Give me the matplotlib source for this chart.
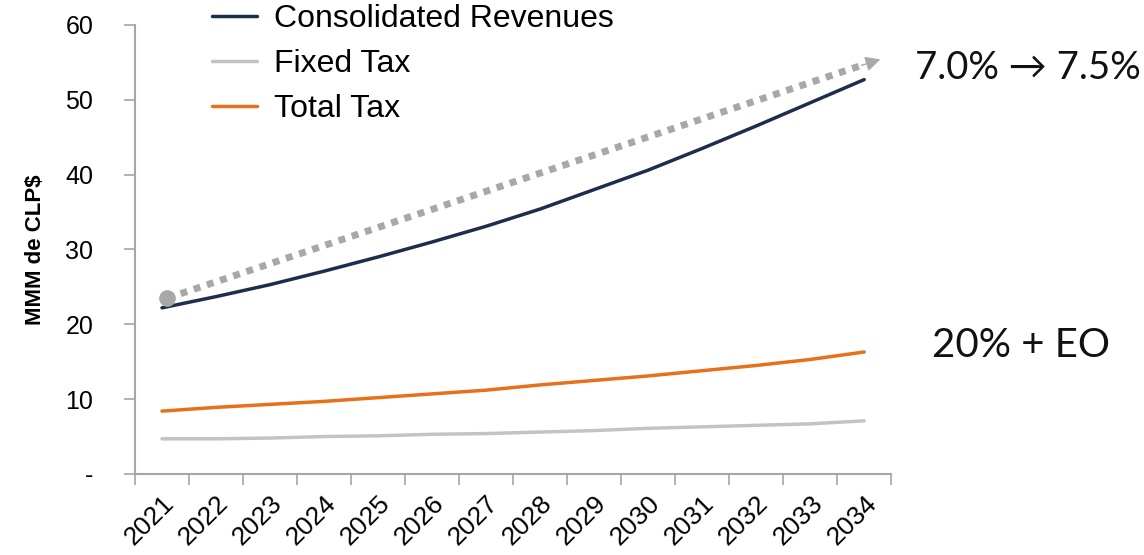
import matplotlib
matplotlib.use('Agg')
import matplotlib.pyplot as plt
import numpy as np

plt.rcParams['font.family'] = ['Liberation Sans', 'DejaVu Sans']

years = ['2021', '2022', '2023', '2024', '2025', '2026', '2027',
         '2028', '2029', '2030', '2031', '2032', '2033', '2034']
revenues = [22.2, 23.7, 25.3, 27.1, 29.0, 31.0, 33.1, 35.4, 38.0, 40.6, 43.5, 46.5, 49.6, 52.7]
fixed_tax = [4.7, 4.7, 4.8, 5.0, 5.1, 5.3, 5.4, 5.6, 5.8, 6.1, 6.3, 6.5, 6.7, 7.1]
total_tax = [8.4, 8.9, 9.3, 9.7, 10.2, 10.7, 11.2, 11.9, 12.5, 13.1, 13.8, 14.5, 15.3, 16.3]
yticks = [0, 10, 20, 30, 40, 50, 60]
ytick_labels = ['-', '10', '20', '30', '40', '50', '60']
trend_x = [0.1, 12.95]
trend_y = [23.5, 54.6]
trend_tip = (13.3, 55.4)

navy = '#1c2e4a'
grey = '#c3c3c3'
orange = '#e8701a'
axis_grey = '#a6a6a6'
arrow_grey = '#a8a8a8'

fig = plt.figure(figsize=(11.44, 5.55), dpi=100)
ax = fig.add_axes([0.118, 0.146, 0.661, 0.809])

x = np.arange(len(years))
l1, = ax.plot(x, revenues, color=navy, lw=2.5, solid_capstyle='round', label='Consolidated Revenues')
l2, = ax.plot(x, fixed_tax, color=grey, lw=2.5, solid_capstyle='round', label='Fixed Tax')
l3, = ax.plot(x, total_tax, color=orange, lw=2.5, solid_capstyle='round', label='Total Tax')

# dotted trend arrow
ax.plot(trend_x, trend_y, color=arrow_grey, lw=5, linestyle=(0, (1.0, 1.0)),
        dash_capstyle='butt', zorder=4)
ax.annotate('', xy=trend_tip, xytext=(trend_x[1], trend_y[1]),
            arrowprops=dict(arrowstyle='-|>,head_length=0.9,head_width=0.45',
                            color=arrow_grey, lw=1, shrinkA=0, shrinkB=0))
ax.plot([trend_x[0]], [trend_y[0]], 'o', color=arrow_grey, ms=11, zorder=5)

ax.set_xlim(-0.5, len(years) - 0.5)
ax.set_ylim(0, 60)
ax.set_yticks(yticks)
ax.set_yticklabels(ytick_labels, fontsize=18)
ax.set_xticks(x)
ax.set_xticklabels(years, rotation=45, ha='right', rotation_mode='anchor', fontsize=19)
ax.set_xticks(np.arange(len(years) + 1) - 0.5, minor=True)
ax.tick_params(axis='x', which='major', length=0, pad=12)
ax.tick_params(axis='x', which='minor', length=8, color=axis_grey, width=1.2)
ax.tick_params(axis='y', length=8, color=axis_grey, width=1.2, pad=22)

for s in ['top', 'right']:
    ax.spines[s].set_visible(False)
for s in ['left', 'bottom']:
    ax.spines[s].set_color(axis_grey)
    ax.spines[s].set_linewidth(1.5)

ax.set_ylabel('MMM de CLP$', fontsize=16, fontweight='bold', labelpad=14)

fig.legend(handles=[l1, l2, l3], loc='upper left', bbox_to_anchor=(0.16, 1.045),
           frameon=False, fontsize=23, handlelength=1.4, labelspacing=0.48,
           handletextpad=0.55)

fig.text(0.8, 0.878, '7.0% \u2192 7.5%', fontsize=27.5, fontweight='normal',
         family=['Lato', 'DejaVu Sans'], va='center', ha='left', color='#111111')
fig.text(0.815, 0.378, '20% + EO', fontsize=29, fontweight='normal',
         family=['Lato', 'DejaVu Sans'], va='center', ha='left', color='#111111')

fig.savefig('out.png', dpi=100)
